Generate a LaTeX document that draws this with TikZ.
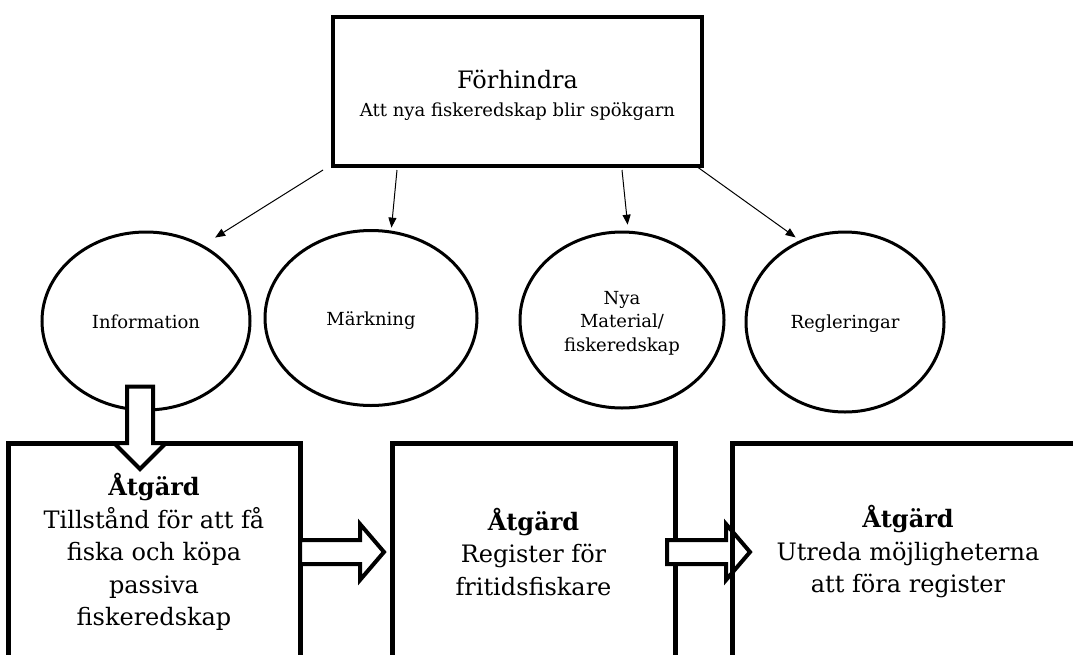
\documentclass[tikz,border=0pt]{standalone}
\usepackage{fontspec}
\setmainfont{DejaVu Serif}
\usetikzlibrary{shapes.geometric,arrows.meta,calc}
\newcommand\lift[1]{\rule{0pt}{#1}}
\begin{document}
\begin{tikzpicture}[x=1pt,y=-1pt,
  goal/.style={draw,line width=4pt,minimum width=369pt,minimum height=149pt,
    align=center,inner sep=0pt,font=\fontsize{18}{28}\selectfont},
  theme/.style={ellipse,draw,line width=3pt,inner sep=0pt,align=center,
    font=\fontsize{18}{23.5}\selectfont},
  action/.style={draw,line width=5pt,inner sep=0pt,minimum height=218pt,
    align=center,font=\fontsize{24}{32.5}\selectfont},
  link/.style={line width=1pt,-{Triangle[length=10pt,width=8pt]}},
  fat/.style={line width=4pt,fill=white,line join=miter}]
\clip (0,0) rectangle (1073,654);

% goal box
\node[goal] (top) at (517.5,91.5)
  {{\fontsize{24}{28}\selectfont\lift{25pt}Förhindra}\\Att nya fiskeredskap blir spökgarn};

% themes
\node[theme,minimum width=208pt,minimum height=178pt] (info) at (146,321) {\lift{15pt}Information};
\node[theme,minimum width=212pt,minimum height=175pt] (mark) at (371,318) {\lift{19pt}Märkning};
\node[theme,minimum width=204pt,minimum height=176pt] (nya)  at (622,320) {\lift{19pt}Nya\\Material/\\fiskeredskap};
\node[theme,minimum width=198pt,minimum height=180pt] (reg)  at (845,322) {\lift{16pt}Regleringar};

% links from the goal to the themes
\draw[link,shorten >=14pt] ([shift={(-8pt,-2pt)}]top.south west) -- (info.53);
\draw[link,shorten >=3pt]  ([shift={(-120.5pt,-2pt)}]top.south) -- (mark.77);
\draw[link,shorten >=6pt]  ([shift={(104.5pt,-2pt)}]top.south) -- (nya.86);
\draw[link,shorten >=5pt]  ([shift={(-8pt,2pt)}]top.south east) -- (reg.119);

% actions
\node[action,minimum width=292pt] (box1) at (154,552)
  {\textbf{Åtgärd}\\Tillstånd för att få\\fiska och köpa\\passiva\\fiskeredskap};
\node[action,minimum width=283pt] (box2) at (533.5,552)
  {\textbf{Åtgärd}\\Register för\\fritidsfiskare};

% block arrow from Information down to the first action
\coordinate (d1) at ([shift={(-6pt,25pt)}]info.south);
\coordinate (d2) at ([shift={(-14pt,-28.5pt)}]box1.north);
\draw[fat] let \p1=(d1), \p2=(d2) in
  (\x1-13pt,\y1) -- (\x1+13pt,\y1) -- (\x1+13pt,\y2+26pt) -- (\x1+26pt,\y2+26pt)
  -- (\x1,\y2) -- (\x1-26pt,\y2+26pt) -- (\x1-13pt,\y2+26pt) -- cycle;

% block arrows between the actions
\coordinate (r1) at ([xshift=-2.5pt]box1.east);
\coordinate (r2) at ([xshift=-5.5pt]box2.west);
\draw[fat] let \p1=(r1), \p2=(r2) in
  (\x1,\y1+12pt) -- (\x2-24pt,\y1+12pt) -- (\x2-24pt,\y1+28pt) -- (\x2,\y1)
  -- (\x2-24pt,\y1-28pt) -- (\x2-24pt,\y1-12pt) -- (\x1,\y1-12pt) -- cycle;

\node[action,minimum width=352pt] (box3) at (908,552)
  {\textbf{Åtgärd}\\Utreda möjligheterna\\att föra register};

\coordinate (s1) at ([xshift=-10.5pt]box2.east);
\coordinate (s2) at ([xshift=20.5pt]box3.west);
\draw[fat] let \p1=(s1), \p2=(s2) in
  (\x1,\y1+12pt) -- (\x2-24pt,\y1+12pt) -- (\x2-24pt,\y1+28pt) -- (\x2,\y1)
  -- (\x2-24pt,\y1-28pt) -- (\x2-24pt,\y1-12pt) -- (\x1,\y1-12pt) -- cycle;
\draw[line width=5pt] (box3.north west) ++(2.5pt,-2.5pt) -- ([shift={(2.5pt,2.5pt)}]box3.south west);
\end{tikzpicture}
\end{document}
